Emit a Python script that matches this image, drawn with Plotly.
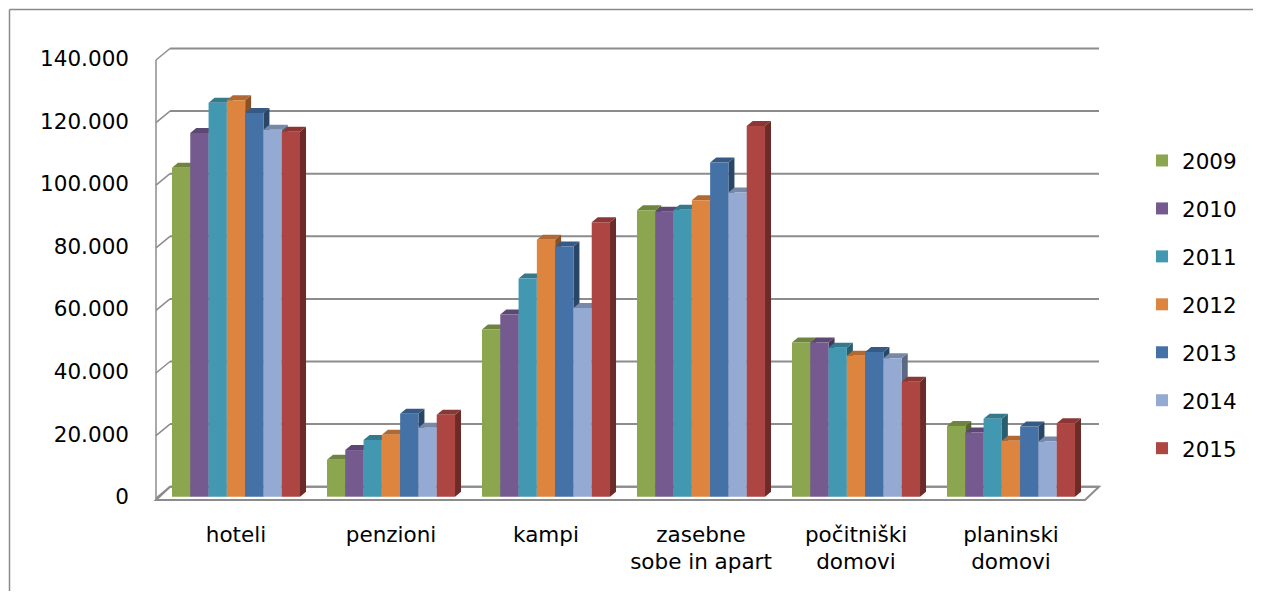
import plotly.graph_objects as go

# ---------------- data ----------------
categories = ["hoteli", "penzioni", "kampi", "zasebne<br>sobe in apart",
              "počitniški<br>domovi", "planinski<br>domovi"]
years = ["2009", "2010", "2011", "2012", "2013", "2014", "2015"]
v2009 = [105100, 11800, 53400, 91500, 49300, 22600]
v2010 = [116200, 14900, 58200, 91000, 49300, 20500]
v2011 = [125900, 18100, 69700, 91700, 47600, 24900]
v2012 = [126700, 19800, 82100, 94700, 45000, 17900]
v2013 = [122600, 26500, 79900, 106800, 46200, 22400]
v2014 = [117200, 22000, 60300, 97200, 44200, 17600]
v2015 = [116600, 26200, 87700, 118400, 36700, 23500]
series = [v2009, v2010, v2011, v2012, v2013, v2014, v2015]
colors = ["#8ba64e", "#745a8f", "#4198b0", "#dd843f", "#4471a6", "#95aad2", "#ad4643"]
tick_vals = [0, 20000, 40000, 60000, 80000, 100000, 120000, 140000]

# ---------------- geometry (pixels, page coordinates; page body has 8px margin) ----------------
OFF = 8
FIG_W, FIG_H = 1261 - 2 * OFF, 599 - 2 * OFF
L, R, T, B = 150 - OFF, 1105 - OFF, 40 - OFF, 505 - OFF
cat_px = 155.0
cat0_center_px = 236.0 - OFF
zero_px = 496.7 - OFF
px_per_unit = 62.6 / 20000.0

x_left_edge_px = cat0_center_px - 0.5 * cat_px
x_lo = -0.5 - (x_left_edge_px - L) / cat_px
x_hi = x_lo + (R - L) / cat_px
y_lo = -(B - zero_px) / px_per_unit
y_hi = (zero_px - T) / px_per_unit


def xu(px):  # pixel offset -> x data units
    return px / cat_px


def yu(px):  # pixel offset -> y data units
    return px / px_per_unit


def shade(hexc, f):
    h = hexc.lstrip("#")
    r, g, b = (int(h[i:i + 2], 16) for i in (0, 2, 4))
    return "rgb(%d,%d,%d)" % (r * f, g * f, b * f)


bargap = 0.174
n = len(years)
bw = (1 - bargap) / n

fig = go.Figure()
for yr, vals, col in zip(years, series, colors):
    fig.add_trace(go.Bar(
        name=yr, x=categories, y=vals, marker_color=col,
        marker_line_width=0, legendgroup=yr,
    ))

shapes = []
grid_col = "#8c8c8c"
front_x = -0.5 + xu(156 - OFF - x_left_edge_px)
back_x = front_x + xu(14)
front_right_x = 5.5 + xu(1085 - OFF - (x_left_edge_px + 6 * cat_px))
back_right_x = front_right_x + xu(14)
dy_back = yu(10)
dy_front = -yu(1.5)

# floor
shapes.append(dict(type="path", layer="below",
                   path="M %f,%f L %f,%f L %f,%f L %f,%f Z" % (
                       front_x, -yu(3.3), front_right_x, -yu(3.3),
                       back_right_x, dy_back, back_x, dy_back),
                   line=dict(color=grid_col, width=2), fillcolor="white"))
# back wall gridlines + left wall diagonals
for v in tick_vals:
    shapes.append(dict(type="line", layer="below", x0=back_x, x1=back_right_x,
                       y0=v + dy_back, y1=v + dy_back,
                       line=dict(color=grid_col, width=2)))
    shapes.append(dict(type="line", layer="below", x0=front_x, x1=back_x,
                       y0=v + dy_front, y1=v + dy_back,
                       line=dict(color=grid_col, width=1.5)))
shapes.append(dict(type="line", layer="below", x0=front_x, x1=front_x,
                   y0=dy_front - yu(2), y1=tick_vals[-1] + dy_front,
                   line=dict(color=grid_col, width=1.5)))

# 3D faces of bars
ddx, ddy = xu(6), yu(5)
for j, (vals, col) in enumerate(zip(series, colors)):
    for i, v in enumerate(vals):
        xl = i - (1 - bargap) / 2 + j * bw
        xr = xl + bw
        shapes.append(dict(type="path", layer="below",
                           path="M %f,%f L %f,%f L %f,%f L %f,%f Z" % (
                               xr, 0, xr + ddx, ddy, xr + ddx, v + ddy, xr, v),
                           line=dict(width=0), fillcolor=shade(col, 0.62)))
        shapes.append(dict(type="path", layer="below",
                           path="M %f,%f L %f,%f L %f,%f L %f,%f Z" % (
                               xl, v, xl + ddx, v + ddy, xr + ddx, v + ddy, xr, v),
                           line=dict(width=0), fillcolor=shade(col, 0.8)))

# outer chart border (left and top edges visible)
W, H = R - L, B - T
bx, by = 9 - OFF + 0.5, 9 - OFF + 0.5
shapes.append(dict(type="line", xref="paper", yref="paper",
                   x0=(bx - L) / W, x1=(FIG_W - L) / W,
                   y0=(B - by) / H, y1=(B - by) / H,
                   line=dict(color="#8a8a8a", width=1.5)))
shapes.append(dict(type="line", xref="paper", yref="paper",
                   x0=(bx - L) / W, x1=(bx - L) / W,
                   y0=(B - by) / H, y1=(B - FIG_H) / H,
                   line=dict(color="#8a8a8a", width=1.5)))

fig.update_layout(
    width=FIG_W, height=FIG_H,
    margin=dict(l=L, r=FIG_W - R, t=T, b=FIG_H - B, autoexpand=False),
    paper_bgcolor="white", plot_bgcolor="rgba(0,0,0,0)",
    barmode="group", bargap=bargap, bargroupgap=0,
    separators=",.",
    font=dict(family="DejaVu Sans", size=21.5, color="black"),
    shapes=shapes,
    showlegend=True,
    legend=dict(x=(1142 - OFF - L) / W, xanchor="left", y=(B - 140 + OFF) / H, yanchor="top",
                tracegroupgap=17, font=dict(size=21.5), bgcolor="rgba(0,0,0,0)"),
    xaxis=dict(range=[x_lo, x_hi], showgrid=False, zeroline=False, showline=False,
               ticks="", ticklabelstandoff=14, fixedrange=True),
    yaxis=dict(range=[y_lo, y_hi], tickvals=tick_vals, tickformat=",d",
               showgrid=False, zeroline=False, showline=False, ticks="",
               ticklabelstandoff=20, fixedrange=True),
)

fig.write_html("out.html")
